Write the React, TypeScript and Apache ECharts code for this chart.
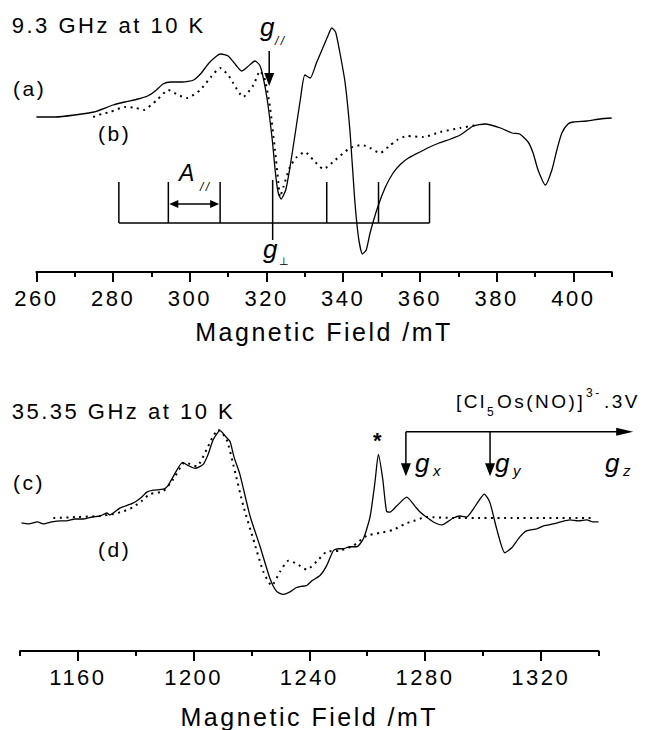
import React, { useEffect, useRef } from "react";
import * as echarts from "echarts";

const FONT = '"Liberation Sans", Arial, Helvetica, "DejaVu Sans", sans-serif';

// ---------- Top panel: 9.3 GHz at 10 K (field in mT) ----------
const X_TICKS_TOP = [260, 280, 300, 320, 340, 360, 380, 400];
const FIELD_A = [260, 265, 270, 275, 280, 283, 286.5, 289, 291, 293, 295, 298, 301, 303, 305, 307, 308, 310, 312, 313.5, 315, 317, 318.2, 319, 320.2, 321.5, 322.3, 323, 323.8, 325, 326, 327.5, 328.8, 330, 331.4, 333, 335, 336, 337, 338, 339, 340.5, 341.8, 343, 344, 345, 346, 347, 349, 351, 353, 355, 357, 360, 362, 365, 368, 370.5, 373.9, 377, 381, 384, 386, 388.2, 389.5, 390.8, 392.7, 394.4, 395.7, 397, 398.6, 400, 403.5, 407, 410];
const SIGNAL_A = [155, 155, 157, 160, 167, 170, 173, 176, 181, 188, 190, 190, 192, 199, 209, 216, 218, 216, 207, 201, 205, 211, 207, 197, 172, 132, 100, 80, 73, 82, 102, 139, 172, 197, 194, 209, 227, 236, 244, 240, 222, 189, 139, 72, 34, 18, 22, 39, 65, 85, 99, 108, 114, 120, 124, 129, 133, 137, 146, 148, 144, 139, 138, 130, 119, 102, 87, 102, 122, 139, 148, 150, 151, 153, 154];
const FIELD_B = [274.8, 277, 279.2, 283.1, 286, 287.9, 291.4, 294.4, 297, 299.2, 302.7, 305.5, 307.9, 310, 311.3, 313.9, 316.6, 318.3, 319.6, 320.9, 322.2, 323.1, 323.5, 324.4, 326.1, 327.9, 330, 332.2, 334.8, 337.9, 341.8, 344.9, 347, 349.6, 352, 354, 356.6, 360.9, 365.3, 370.5, 374.8];
const SIGNAL_B = [155, 158, 160, 165, 164, 162, 172, 182, 177, 174, 182, 195, 204, 197, 189, 175, 187, 201, 192, 165, 122, 89, 75, 85, 105, 115, 120, 112, 103, 112, 124, 127, 124, 119, 126, 132, 136, 135, 140, 144, 147];

// hyperfine stick diagram (mT) and annotation levels (a.u.)
const STICK_FIELDS = [281.5, 294.4, 307.9, 321.6, 335.7, 349.2, 362.5];
const STICK_TOP = 90;
const STICK_BASE = 49;
const STICK_CENTER_TOP = 92;
const STICK_CENTER_BOTTOM = 32;
const A_PAR_LEVEL = 68;
const G_PAR_FIELD = 320.7;
const G_PAR_FROM = 221;
const G_PAR_TO = 186;

// ---------- Bottom panel: 35.35 GHz at 10 K ----------
const X_TICKS_BOTTOM = [1160, 1200, 1240, 1280, 1320];
const FIELD_C = [1140.5, 1143, 1146, 1148, 1151, 1154, 1156, 1159, 1162, 1165, 1167.6, 1170, 1171, 1174.5, 1179, 1182, 1183.8, 1186, 1189.5, 1191, 1193, 1196.2, 1198, 1200.5, 1203.3, 1205, 1206.8, 1209.1, 1211.4, 1212.6, 1214, 1216, 1219.5, 1222.9, 1226.4, 1228.7, 1231, 1233, 1235.6, 1237, 1239.1, 1241, 1243.7, 1246, 1248.3, 1250, 1251.7, 1254, 1256.4, 1258.7, 1261, 1262.7, 1263.9, 1265.4, 1266.7, 1267.9, 1270.2, 1273.7, 1276.5, 1278.3, 1280, 1282.9, 1285.8, 1289.8, 1292.1, 1294.4, 1296.7, 1299, 1300.5, 1302.4, 1304.8, 1307.6, 1310, 1312.8, 1315.1, 1318.6, 1321, 1324.3, 1327, 1330.1, 1333, 1336, 1338, 1340];
const SIGNAL_C = [129, 128, 130, 128, 130, 131, 131, 133, 133, 135, 136, 139, 137, 144, 149, 155, 160, 162, 163, 166, 176, 190, 187, 184, 188, 198, 213, 222, 215, 211, 195, 178, 136, 106, 73, 60, 57, 59, 64, 65, 66, 71, 76, 86, 101, 103, 103, 105, 105, 113, 135, 170, 198, 173, 141, 140, 146, 155, 146, 140, 136, 130, 127, 134, 136, 135, 143, 153, 158, 150, 123, 99, 104, 115, 121, 123, 126, 128, 130, 132, 131, 132, 130, 130];
const FIELD_D = [1151.5, 1160, 1167.6, 1172.3, 1176, 1179.1, 1182, 1184.9, 1189.5, 1193, 1197, 1201, 1204.5, 1206.5, 1208.5, 1211.4, 1213.7, 1217.2, 1220.6, 1224.1, 1227, 1229.9, 1232.8, 1235.6, 1239.1, 1242.5, 1246, 1250.6, 1255.2, 1259.8, 1264.4, 1269, 1273, 1276, 1280.6, 1290, 1300, 1310, 1320, 1330, 1338.5];
const SIGNAL_D = [134, 135, 136, 138, 141, 145, 151, 158, 161, 173, 190, 186, 203, 215, 223, 213, 188, 146, 113, 80, 66, 80, 91, 88, 82, 90, 100, 101, 106, 116, 119, 122, 128, 131, 135, 134, 134, 134, 134, 134, 134];

// g-tensor arrows (mT) and levels (a.u.)
const G_X_FIELD = 1273.4;
const G_Y_FIELD = 1302.5;
const G_Z_END = 1352;
const G_BAR_LEVEL = 221;
const G_TIP_LEVEL = 176;

const zip = (xs: number[], ys: number[]) => xs.map((x, i) => [x, ys[i]]);

const mainX = (grid: number, min: number, max: number, interval: number, ticks: number[], nameGap: number) => ({
  type: "value",
  gridIndex: grid,
  min,
  max,
  interval,
  position: "bottom",
  axisLine: { show: true, onZero: false, lineStyle: { color: "#000", width: 2 } },
  axisTick: { show: true, inside: false, length: 5, lineStyle: { color: "#000", width: 2 } },
  axisLabel: {
    show: true,
    color: "#000",
    fontSize: 22,
    fontFamily: FONT,
    margin: 15,
    customValues: ticks,
    formatter: (v: number) => (ticks.includes(v) ? String(v) : ""),
  },
  splitLine: { show: false },
  minorTick: { show: false },
  name: "Magnetic Field /mT",
  nameLocation: "middle",
  nameGap,
  nameTextStyle: { color: "#000", fontSize: 25, fontFamily: FONT },
});

const overlayX = (grid: number, min: number, max: number, interval: number, ticks: number[]) => ({
  type: "value",
  gridIndex: grid,
  min,
  max,
  interval,
  position: "bottom",
  axisLine: { show: false, onZero: false },
  axisTick: { show: true, inside: false, length: 10, customValues: ticks, lineStyle: { color: "#000", width: 2 } },
  axisLabel: { show: false },
  splitLine: { show: false },
});

const yAx = (grid: number) => ({
  type: "value",
  gridIndex: grid,
  min: 0,
  max: 272,
  show: false,
  splitLine: { show: false },
});

const solid = (x: number, y: number, data: number[][]) => ({
  type: "line",
  xAxisIndex: x,
  yAxisIndex: y,
  data,
  showSymbol: false,
  symbol: "none",
  smooth: 0.2,
  silent: true,
  lineStyle: { color: "#000", width: 1.3 },
});

const dotted = (x: number, y: number, data: number[][]) => ({
  type: "line",
  xAxisIndex: x,
  yAxisIndex: y,
  data,
  showSymbol: false,
  symbol: "none",
  smooth: 0.2,
  silent: true,
  lineStyle: { color: "#000", width: 2, type: [2, 4.5] },
});

function txt(text: string, x: number, y: number, size: number, italic = false, bold = false) {
  return {
    type: "text",
    x,
    y,
    silent: true,
    style: {
      text,
      fill: "#000",
      fontSize: size,
      fontFamily: FONT,
      fontStyle: italic ? "italic" : "normal",
      fontWeight: bold ? "bold" : "normal",
      textAlign: "left",
      textVerticalAlign: "middle",
      align: "left",
      verticalAlign: "middle",
    },
  };
}

function seg(x1: number, y1: number, x2: number, y2: number, lw = 1.5) {
  return { type: "line", silent: true, shape: { x1, y1, x2, y2 }, style: { stroke: "#000", lineWidth: lw } };
}

function arrow(x1: number, y1: number, x2: number, y2: number, len: number, half: number, lw: number, both = false) {
  const dx = x2 - x1;
  const dy = y2 - y1;
  const L = Math.hypot(dx, dy);
  const ux = dx / L;
  const uy = dy / L;
  const nx = -uy;
  const ny = ux;
  const head = (tx: number, ty: number, dx1: number, dy1: number) => ({
    type: "polygon",
    silent: true,
    shape: {
      points: [
        [tx, ty],
        [tx - dx1 * len + nx * half, ty - dy1 * len + ny * half],
        [tx - dx1 * len - nx * half, ty - dy1 * len - ny * half],
      ],
    },
    style: { fill: "#000" },
  });
  const els: any[] = [];
  const sx = both ? x1 + ux * len * 0.8 : x1;
  const sy = both ? y1 + uy * len * 0.8 : y1;
  els.push(seg(sx, sy, x2 - ux * len * 0.8, y2 - uy * len * 0.8, lw));
  els.push(head(x2, y2, ux, uy));
  if (both) els.push(head(x1, y1, -ux, -uy));
  return els;
}

export default function App() {
  const ref = useRef<HTMLDivElement>(null);
  useEffect(() => {
    const chart = echarts.init(ref.current!, null, { renderer: "svg" });
    const option: any = {
      animation: false,
      backgroundColor: "#fff",
      grid: [
        { left: 36.4, right: 37.3, top: 0, height: 272, containLabel: false },
        { left: 20.1, right: 50.5, top: 381, height: 272, containLabel: false },
      ],
      xAxis: [
        mainX(0, 260, 410, 10, X_TICKS_TOP, 47),
        overlayX(0, 260, 410, 20, X_TICKS_TOP),
        mainX(1, 1140, 1340, 20, X_TICKS_BOTTOM, 53),
        overlayX(1, 1140, 1340, 40, X_TICKS_BOTTOM),
      ],
      yAxis: [yAx(0), yAx(1)],
      series: [
        solid(0, 0, zip(FIELD_A, SIGNAL_A)),
        dotted(0, 0, zip(FIELD_B, SIGNAL_B)),
        solid(2, 1, zip(FIELD_C, SIGNAL_C)),
        dotted(2, 1, zip(FIELD_D, SIGNAL_D)),
      ],
    };
    chart.setOption(option);

    const pTop = (f: number, v: number) => chart.convertToPixel({ xAxisIndex: 0, yAxisIndex: 0 }, [f, v]) as number[];
    const pBot = (f: number, v: number) => chart.convertToPixel({ xAxisIndex: 2, yAxisIndex: 1 }, [f, v]) as number[];

    const els: any[] = [];
    // stick diagram
    STICK_FIELDS.forEach((f, i) => {
      const center = i === 3;
      const a = pTop(f, center ? STICK_CENTER_TOP : STICK_TOP);
      const b = pTop(f, center ? STICK_CENTER_BOTTOM : STICK_BASE);
      els.push(seg(a[0], a[1], b[0], b[1], 1.5));
    });
    const h1 = pTop(STICK_FIELDS[0], STICK_BASE);
    const h2 = pTop(STICK_FIELDS[STICK_FIELDS.length - 1], STICK_BASE);
    els.push(seg(h1[0], h1[1], h2[0], h2[1], 1.5));
    // A// double arrow
    const d1 = pTop(STICK_FIELDS[1], A_PAR_LEVEL);
    const d2 = pTop(STICK_FIELDS[2], A_PAR_LEVEL);
    els.push(...arrow(d1[0] + 1, d1[1], d2[0] - 1, d2[1], 9, 4, 1.5, true));
    // g// arrow
    const g1 = pTop(G_PAR_FIELD, G_PAR_FROM);
    const g2 = pTop(G_PAR_FIELD, G_PAR_TO);
    els.push(...arrow(g1[0], g1[1], g2[0], g2[1], 13, 5, 1.5));
    // bottom g-tensor arrows
    const b1 = pBot(G_X_FIELD, G_BAR_LEVEL);
    const b2 = pBot(G_Z_END, G_BAR_LEVEL);
    els.push(...arrow(b1[0], b1[1], b2[0], b2[1], 17, 4, 1.5));
    const bx = pBot(G_X_FIELD, G_TIP_LEVEL);
    els.push(...arrow(b1[0], b1[1], bx[0], bx[1], 13, 5, 1.5));
    const by1 = pBot(G_Y_FIELD, G_BAR_LEVEL);
    const by2 = pBot(G_Y_FIELD, G_TIP_LEVEL);
    els.push(...arrow(by1[0], by1[1], by2[0], by2[1], 13, 5, 1.5));

    // texts
    els.push(txt("9.3 GHz at 10 K", 11.7, 25, 22));
    els.push(txt("(a)", 13, 88, 21));
    els.push(txt("(b)", 98, 133, 21));
    els.push(txt("g", 260, 27, 26, true));
    els.push(txt("//", 275, 41, 12, true));
    els.push(txt("A", 179, 173, 23, true));
    els.push(txt("//", 200, 187, 12, true));
    els.push(txt("g", 263, 249, 26, true));
    els.push(txt("⊥", 279, 261, 11));

    els.push(txt("35.35 GHz at 10 K", 11.7, 411.5, 22));
    els.push(txt("(c)", 13, 482, 21));
    els.push(txt("(d)", 98, 549, 21));
    els.push(txt("*", 373, 440, 22, false, true));
    els.push(txt("[Cl", 456, 401, 19));
    els.push(txt("5", 487, 412, 12));
    els.push(txt("Os(NO)]", 497, 401, 19));
    els.push(txt("3-", 586, 393, 12));
    els.push(txt(".3V", 604, 401, 19));
    els.push(txt("g", 415, 463, 26, true));
    els.push(txt("x", 433, 470.5, 15, true));
    els.push(txt("g", 495, 463, 26, true));
    els.push(txt("y", 513, 470, 15, true));
    els.push(txt("g", 605, 463, 26, true));
    els.push(txt("z", 623, 470.5, 15, true));

    chart.setOption({ graphic: { elements: els } });
    return () => chart.dispose();
  }, []);
  return (
    <div
      ref={ref}
      style={{ position: "absolute", left: 0, top: 0, width: 649, height: 730, letterSpacing: "2.5px", background: "#fff" }}
    />
  );
}
